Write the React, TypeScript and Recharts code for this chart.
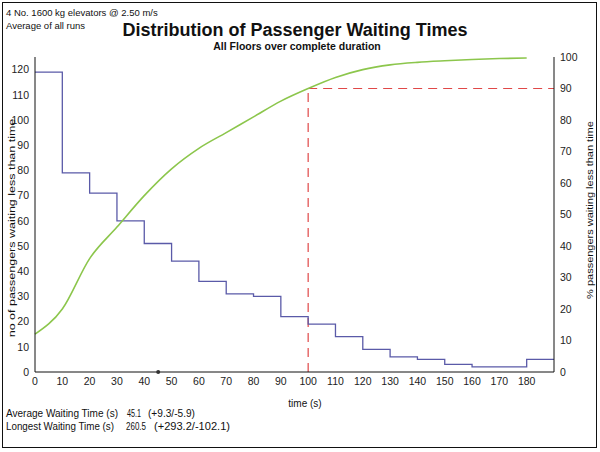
import React from 'react';
import {
  ComposedChart,
  Line,
  XAxis,
  YAxis,
  ReferenceLine,
  ReferenceDot,
} from 'recharts';

const times = [0, 10, 20, 30, 40, 50, 60, 70, 80, 90, 100, 110, 120, 130, 140, 150, 160, 170, 180, 190];
const passengersWaiting = [119, 79, 71, 60, 51, 44, 36, 31, 30, 22, 19, 14, 9, 6, 5, 3, 2, 2, 5, 5];
const percentWaiting = [12, 20, 36, 46, 56, 64.5, 71, 76, 81, 86, 90, 93.5, 96, 97.5, 98.3, 98.8, 99.2, 99.5, 99.7, null];
const xTicks = [0, 10, 20, 30, 40, 50, 60, 70, 80, 90, 100, 110, 120, 130, 140, 150, 160, 170, 180];
const leftTicks = [0, 10, 20, 30, 40, 50, 60, 70, 80, 90, 100, 110, 120];
const rightTicks = [0, 10, 20, 30, 40, 50, 60, 70, 80, 90, 100];
const averageWait = 45.1;
const target = { time: 100, percent: 90 };

const data = times.map((t, i) => ({
  t,
  count: passengersWaiting[i],
  pct: percentWaiting[i],
}));

const FONT = '"Liberation Sans", Arial, sans-serif';
const tickStyle = { fontSize: 10.5, fill: '#222', fontFamily: FONT };

export default function App() {
  return (
    <div style={{ position: 'absolute', left: 0, top: 0, width: 600, height: 452, background: '#fff' }}>
      <div
        style={{
          position: 'absolute',
          left: 2,
          top: 2,
          width: 593,
          height: 444,
          border: '1.5px solid #111',
        }}
      />
      <ComposedChart
        width={600}
        height={452}
        data={data}
        margin={{ top: 57, right: 16, bottom: 60, left: 5 }}
        style={{ position: 'absolute', left: 0, top: 0 }}
      >
        <XAxis
          dataKey="t"
          type="number"
          domain={[0, 190]}
          ticks={xTicks}
          tickLine={false}
          tickSize={4}
          tickMargin={2}
          height={20}
          axisLine={{ stroke: '#111' }}
          tick={tickStyle}
          interval={0}
        />
        <YAxis
          yAxisId="left"
          domain={[0, 125]}
          ticks={leftTicks}
          width={30}
          tickLine={false}
          tickSize={4}
          tickMargin={2}
          axisLine={{ stroke: '#111' }}
          tick={tickStyle}
          interval={0}
        />
        <YAxis
          yAxisId="right"
          orientation="right"
          domain={[0, 100]}
          ticks={rightTicks}
          width={30}
          tickLine={false}
          tickSize={4}
          tickMargin={2}
          axisLine={{ stroke: '#111' }}
          tick={tickStyle}
          interval={0}
        />
        <ReferenceLine
          yAxisId="right"
          segment={[{ x: target.time, y: 0 }, { x: target.time, y: target.percent }]}
          stroke="#e04848"
          strokeWidth={1.2}
          strokeDasharray="9 6"
        />
        <ReferenceLine
          yAxisId="right"
          segment={[{ x: target.time, y: target.percent }, { x: 190, y: target.percent }]}
          stroke="#e04848"
          strokeWidth={1.2}
          strokeDasharray="9 6"
        />
        <Line
          yAxisId="left"
          type="stepAfter"
          dataKey="count"
          stroke="#5a5aa8"
          strokeWidth={1.3}
          dot={false}
          isAnimationActive={false}
        />
        <Line
          yAxisId="right"
          type="monotone"
          dataKey="pct"
          stroke="#8cc64c"
          strokeWidth={1.6}
          dot={false}
          connectNulls={false}
          isAnimationActive={false}
        />
        <ReferenceDot yAxisId="left" x={averageWait} y={0} r={2} fill="#333" stroke="none" />
      </ComposedChart>
      <svg
        width={600}
        height={452}
        style={{ position: 'absolute', left: 0, top: 0, pointerEvents: 'none' }}
        fontFamily={FONT}
      >
        <text x={6} y={16} fontSize={9.5} fill="#111">4 No. 1600 kg elevators @ 2.50 m/s</text>
        <text x={6} y={29} fontSize={9.5} fill="#111">Average of all runs</text>
        <text x={295} y={36} fontSize={18} fontWeight="bold" textAnchor="middle" fill="#111">
          Distribution of Passenger Waiting Times
        </text>
        <text x={297} y={50} fontSize={10.5} fontWeight="bold" textAnchor="middle" fill="#111">
          All Floors over complete duration
        </text>
        <text
          x={0}
          y={0}
          fontSize={12.5}
          fill="#111"
          textAnchor="middle"
          transform="translate(15, 228) rotate(-90) scale(1, 0.75)"
        >
          no of passengers waiting less than time
        </text>
        <text
          x={0}
          y={0}
          fontSize={11}
          fill="#111"
          textAnchor="middle"
          transform="translate(593, 210) rotate(-90) scale(1, 0.8)"
        >
          % passengers waiting less than time
        </text>
        <text x={305} y={407} fontSize={10} textAnchor="middle" fill="#111">time (s)</text>
        <text x={6} y={417} fontSize={11} fill="#111" textLength={112} lengthAdjust="spacingAndGlyphs">Average Waiting Time (s)</text>
        <text x={127} y={417} fontSize={11} fill="#111" textLength={14} lengthAdjust="spacingAndGlyphs">45.1</text>
        <text x={148} y={417} fontSize={11} fill="#111" textLength={47} lengthAdjust="spacingAndGlyphs">(+9.3/-5.9)</text>
        <text x={6} y={430} fontSize={11} fill="#111" textLength={108} lengthAdjust="spacingAndGlyphs">Longest Waiting Time (s)</text>
        <text x={126} y={430} fontSize={11} fill="#111" textLength={20} lengthAdjust="spacingAndGlyphs">260.5</text>
        <text x={154} y={430} fontSize={11} fill="#111" textLength={76} lengthAdjust="spacingAndGlyphs">(+293.2/-102.1)</text>
      </svg>
    </div>
  );
}
